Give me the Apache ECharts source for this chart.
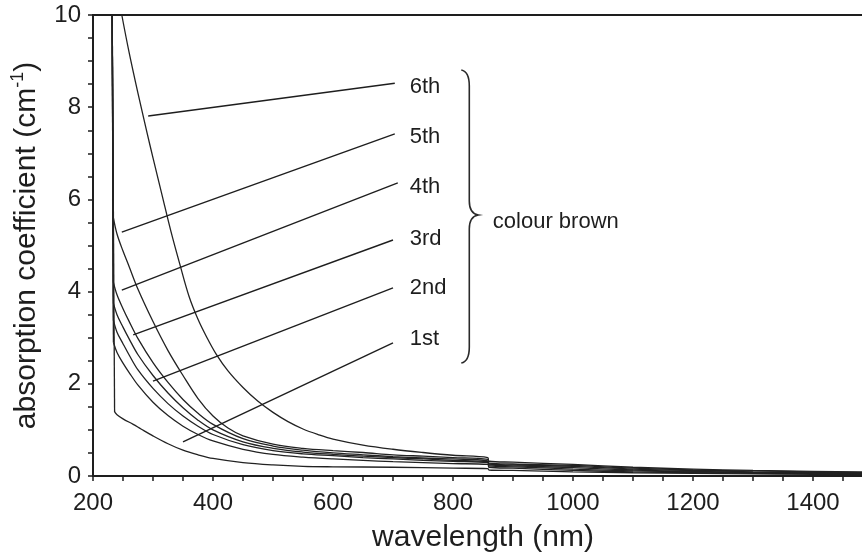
<!DOCTYPE html>
<html>
<head>
<meta charset="utf-8">
<script src="https://cdn.jsdelivr.net/npm/echarts@6/dist/echarts.min.js"></script>
<style>
html,body{margin:0;padding:0;background:#fff;}
#chart{width:862px;height:554px;}
</style>
</head>
<body>
<div id="chart"></div>
<script>
// ---- data (wavelength nm, absorption coefficient cm^-1) ----
const curve0 = [[232,10],[236,1.39],[240,1.33],[250,1.24],[267,1.12],[280,1.02],[300,0.87],[325,0.70],[350,0.56],[375,0.46],[400,0.38],[450,0.29],[500,0.24],[550,0.21],[600,0.2],[700,0.19],[800,0.17],[858,0.16],[860,0.13],[900,0.12],[1000,0.09],[1100,0.07],[1200,0.06],[1300,0.045],[1400,0.035],[1500,0.03]];
const curve1 = [[232,10],[234,2.9],[240,2.68],[250,2.45],[260,2.25],[275,1.97],[300,1.6],[325,1.31],[350,1.08],[375,0.9],[400,0.76],[450,0.58],[500,0.47],[550,0.41],[600,0.37],[650,0.34],[700,0.31],[750,0.29],[800,0.27],[858,0.25],[860,0.19],[900,0.17],[1000,0.12],[1100,0.09],[1200,0.075],[1300,0.06],[1400,0.05],[1500,0.04]];
const curve2 = [[232,10],[234,3.38],[240,3.12],[250,2.87],[260,2.63],[275,2.3],[300,1.9],[325,1.57],[350,1.3],[375,1.08],[400,0.9],[450,0.68],[500,0.55],[550,0.48],[600,0.44],[650,0.4],[700,0.37],[750,0.34],[800,0.32],[858,0.29],[860,0.22],[900,0.2],[1000,0.15],[1100,0.11],[1200,0.09],[1300,0.07],[1400,0.06],[1500,0.05]];
const curve3 = [[232,10],[234,3.75],[240,3.5],[250,3.23],[260,2.98],[275,2.63],[300,2.18],[325,1.8],[350,1.48],[375,1.21],[400,1.0],[450,0.74],[500,0.6],[550,0.52],[600,0.47],[650,0.43],[700,0.4],[750,0.37],[800,0.34],[858,0.31],[860,0.24],[900,0.22],[1000,0.18],[1100,0.13],[1200,0.1],[1300,0.08],[1400,0.07],[1500,0.06]];
const curve4 = [[232,10],[234,4.2],[240,3.93],[250,3.63],[260,3.36],[275,2.98],[300,2.46],[325,2.03],[350,1.66],[375,1.36],[400,1.12],[450,0.81],[500,0.65],[550,0.56],[600,0.5],[650,0.46],[700,0.42],[750,0.39],[800,0.37],[858,0.33],[860,0.26],[900,0.24],[1000,0.21],[1100,0.15],[1200,0.12],[1300,0.09],[1400,0.08],[1500,0.07]];
const curve5 = [[232,10],[234,5.6],[240,5.25],[250,4.88],[260,4.55],[275,4.05],[300,3.35],[325,2.72],[350,2.18],[375,1.68],[400,1.3],[425,1.04],[450,0.87],[500,0.69],[550,0.6],[600,0.55],[650,0.51],[700,0.46],[750,0.43],[800,0.4],[858,0.36],[860,0.28],[900,0.26],[1000,0.23],[1100,0.17],[1200,0.13],[1300,0.11],[1400,0.09],[1500,0.08]];
const curve6 = [[248,10],[260,9.2],[275,8.3],[290,7.45],[300,6.9],[315,6.1],[330,5.3],[345,4.58],[360,3.9],[375,3.4],[390,3.0],[405,2.65],[425,2.28],[450,1.92],[475,1.62],[500,1.38],[525,1.18],[550,1.02],[575,0.9],[600,0.8],[650,0.67],[700,0.58],[750,0.51],[800,0.45],[858,0.4],[860,0.32],[900,0.3],[1000,0.25],[1100,0.19],[1200,0.15],[1300,0.12],[1400,0.1],[1500,0.08]];
const curves = [curve0, curve1, curve2, curve3, curve4, curve5];   // rise steeply near 232 nm
const curveLast = curve6;

// annotation leader lines: [start, end] in data units
const annotNames = ['6th','5th','4th','3rd','2nd','1st'];
const annotStart = [[292,7.81],[248,5.29],[248,4.03],[267,3.06],[300,2.06],[350,0.74]];
const annotEnd   = [[703,8.52],[703,7.42],[708,6.36],[700,5.12],[700,4.08],[700,2.89]];
const annotLabelAt = [[727,8.44],[727,7.35],[727,6.27],[727,5.14],[727,4.08],[727,2.97]];
const groupLabel = 'colour brown';
const braceAt = [828, 5.63];

const xTickMin = 200, xTickMax = 1500, xStep = 50, xLabelStep = 200;
const yTickMin = 0, yTickMax = 10, yStep = 0.5, yLabelStep = 2;

// ---- chart ----
const FONT = '"Liberation Sans", Arial, Helvetica, sans-serif';
const INK = '#1e1e1e';
const LINE = {color: '#222', width: 1.3};

const series = [];
curves.forEach((c) => {
  // steep absorption edge (straight) and the decaying tail (smoothed)
  series.push({type: 'line', data: c.slice(0, 2), showSymbol: false, symbol: 'none',
               lineStyle: LINE, silent: true, z: 3});
  series.push({type: 'line', data: c.slice(1), showSymbol: false, symbol: 'none',
               smooth: 0.35, lineStyle: LINE, silent: true, z: 3});
});
series.push({type: 'line', data: curveLast, showSymbol: false, symbol: 'none',
             smooth: 0.35, lineStyle: LINE, silent: true, z: 3});
annotStart.forEach((s, i) => {
  series.push({
    type: 'line', data: [s, annotEnd[i]], showSymbol: false, symbol: 'none', silent: true, z: 4,
    lineStyle: {color: INK, width: 1.4}
  });
});
series.push({
  type: 'scatter', symbolSize: 1, silent: true, z: 5,
  itemStyle: {color: 'rgba(0,0,0,0)', opacity: 1},
  data: annotLabelAt.map((p, i) => ({value: p, name: annotNames[i]})),
  label: {show: true, position: 'right', distance: 0, formatter: p => p.name,
          color: INK, fontSize: 22, fontFamily: FONT}
});
// curly brace: square symbol box (uniform scaling keeps the stroke even)
series.push({
  type: 'scatter', silent: true, z: 5,
  symbol: 'path://M138,0 C143,1 146,5 146,16 L146,131 C146,140 149,144 155,145 C149,146 146,150 146,159 L146,277 C146,288 143,292 138,293 M0,0 L0,0 M293,293 L293,293',
  symbolSize: [293, 293],
  itemStyle: {color: 'rgba(0,0,0,0)', borderColor: '#2a2a2a', borderWidth: 1.6, opacity: 1},
  data: [{value: braceAt, name: groupLabel}],
  label: {show: true, position: 'inside', align: 'left', verticalAlign: 'middle', offset: [23, 5],
          formatter: p => p.name, color: INK, fontSize: 22, fontFamily: FONT}
});

const chart = echarts.init(document.getElementById('chart'), null, {renderer: 'canvas'});
chart.setOption({
  animation: false,
  backgroundColor: '#fff',
  grid: {left: 93, top: 15, bottom: 78, right: -11, containLabel: false, outerBoundsMode: 'none',
         show: true, borderColor: INK, borderWidth: 2, backgroundColor: 'transparent'},
  xAxis: [{
    type: 'value', min: xTickMin, max: xTickMax, interval: xStep,
    name: 'wavelength (nm)', nameLocation: 'middle', nameGap: 47,
    nameTextStyle: {fontSize: 30, fontFamily: FONT, color: INK},
    axisLine: {show: true, onZero: false, lineStyle: {color: INK, width: 2}},
    axisTick: {show: true, inside: false, length: 5, lineStyle: {color: INK, width: 1.5}},
    axisLabel: {fontSize: 24, fontFamily: FONT, color: INK, margin: 15,
      formatter: v => (v % xLabelStep === 0 && v < 1500) ? String(v) : ''},
    splitLine: {show: false}
  }],
  yAxis: [{
    type: 'value', min: yTickMin, max: yTickMax, interval: yStep,
    name: '{t|absorption coefficient (cm}{s|-1}{t|)}', nameLocation: 'middle', nameGap: 48,
    nameTextStyle: {color: INK, fontFamily: FONT,
      rich: {t: {fontSize: 30, lineHeight: 36, fontFamily: FONT, color: INK},
             s: {fontSize: 18, lineHeight: 20, verticalAlign: 'top', fontFamily: FONT, color: INK}}},
    axisLine: {show: true, onZero: false, lineStyle: {color: INK, width: 2}},
    axisTick: {show: true, inside: false, length: 5, lineStyle: {color: INK, width: 1.5}},
    axisLabel: {fontSize: 24, fontFamily: FONT, color: INK, margin: 12,
      formatter: v => (Math.abs(v % yLabelStep) < 1e-9) ? String(v) : ''},
    splitLine: {show: false}
  }],
  series: series
});
</script>
</body>
</html>
